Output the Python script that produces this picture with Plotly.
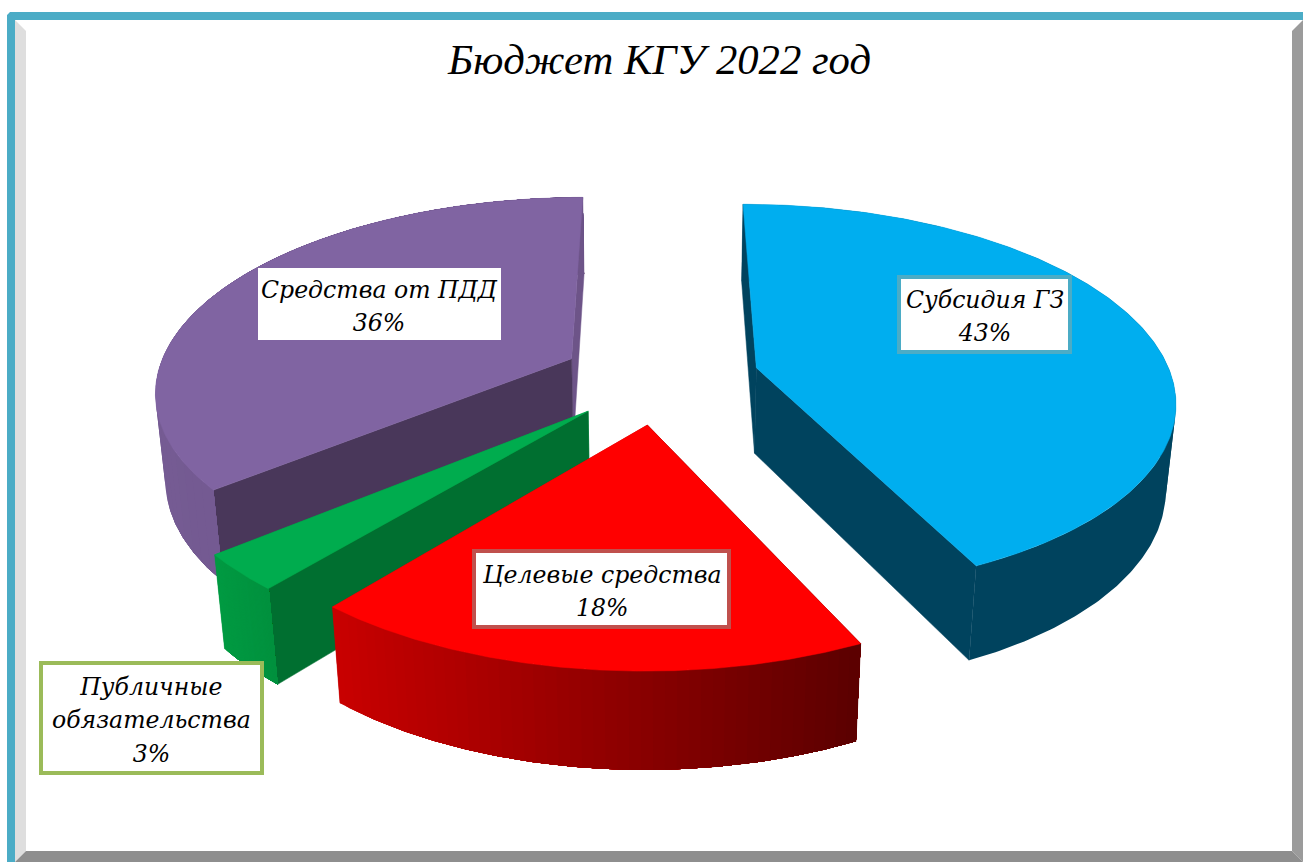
import numpy as np
import plotly.graph_objects as go

# ---- data ----
categories = ["Субсидия ГЗ", "Целевые средства", "Публичные<br>обязательства", "Средства от ПДД"]
shares = [43, 18, 3, 36]
title_text = "Бюджет КГУ 2022 год"

# ---- style ----
top_colors = ["#00aeef", "#ff0000", "#00ac4e", "#8064a2"]
wall_from = ["#00435e", "#c80000", "#009a42", "#755b93"]   # outer wall, left end
wall_to = ["#00435e", "#5a0000", "#008f3d", "#6a5185"]     # outer wall, right end
wall_first = ["#00435e", "#5a0000", "#006f30", "#49375a"]  # radial wall at slice start
wall_last = ["#00435e", "#c80000", "#009a42", "#6d5488"]   # radial wall at slice end
box_colors = ["#4bacc6", "#c0504d", "#9bbb59", None]
box_centers = [(984.5, 314.5), (601.5, 589), (151.5, 718), (379.5, 304)]
box_sizes = [(175, 79), (259, 80), (225, 114), (243, 72)]
draw_order = [3, 0, 2, 1]

# ---- projection of the tilted, exploded pie ----
CX, CY, FOCAL, TILT, DIST, THICK, START, EXPLODE, SQUASH = (
    660.18, 377.83, 2375.0, 0.488, 5.7167, 0.2427, -0.0015, 0.2392, 0.9843)

edges = np.cumsum([0] + shares) / sum(shares) * 2 * np.pi + START


def project(i, r, th, top=True):
    mid = (edges[i] + edges[i + 1]) / 2
    X = EXPLODE * np.sin(mid) + r * np.sin(th)
    Y = EXPLODE * np.cos(mid) + r * np.cos(th)
    Z = 0 if top else -THICK
    up = Y * np.sin(TILT) + Z * np.cos(TILT)
    d = DIST + Y * np.cos(TILT) - Z * np.sin(TILT)
    return CX + FOCAL * X / d, CY - SQUASH * FOCAL * up / d


def rgb(h):
    return np.array([int(h[k:k + 2], 16) for k in (1, 3, 5)], float)


def mix(a, b, t):
    c = rgb(a) * (1 - t) + rgb(b) * t
    return "rgb(%d,%d,%d)" % tuple(c.round())


fig = go.Figure()


def face(xs, ys, color, name, width=0.5):
    fig.add_trace(go.Scatter(
        x=np.r_[xs, xs[0]], y=np.r_[ys, ys[0]], mode="lines", fill="toself",
        fillcolor=color, line=dict(color=color, width=width), name=name,
        hoverinfo="name", showlegend=False))


def outer_run(i, t, name, lo, hi):
    """One stretch of outer wall that faces a single way, shaded left to right."""
    tx, ty = project(i, 1, t, True)
    bx, by = project(i, 1, t, False)
    if tx[-1] < tx[0]:
        tx, ty, bx, by = tx[::-1], ty[::-1], bx[::-1], by[::-1]
    steps = 1 if wall_from[i] == wall_to[i] else max(2, len(t) // 5)
    for k in np.linspace(0, len(t) - 1, steps + 1).astype(int)[:-1]:
        frac = np.clip((tx[k] - lo) / (hi - lo), 0, 1)
        face(np.r_[tx[k:], bx[k:][::-1]], np.r_[ty[k:], by[k:][::-1]],
             mix(wall_from[i], wall_to[i], frac), name, width=0)


for i in draw_order:
    name = categories[i].replace("<br>", " ")
    a0, a1 = edges[i], edges[i + 1]
    t = np.linspace(a0, a1, 240)
    tx, ty = project(i, 1, t, True)
    bx, by = project(i, 1, t, False)
    lo, hi = min(tx.min(), bx.min()), max(tx.max(), bx.max())
    # split the outer wall where it turns from facing away to facing the viewer
    cross = (tx[1:] - tx[:-1]) * (by[:-1] - ty[:-1]) - (ty[1:] - ty[:-1]) * (bx[:-1] - tx[:-1])
    front = cross < 0
    breaks = [0] + [int(k) + 1 for k in np.flatnonzero(front[1:] != front[:-1])] + [len(t) - 1]
    runs = [(s, e, front[min(s, len(front) - 1)]) for s, e in zip(breaks[:-1], breaks[1:])]
    for s, e, f in runs:
        if not f:
            outer_run(i, t[s:e + 1], name, lo, hi)
    # radial walls: the far one first, the one facing the viewer over it
    for th, col in ((a1, wall_last[i]), (a0, wall_first[i])):
        ax, ay = project(i, 0, 0, True)
        ex, ey = project(i, 1, th, True)
        cx_, cy_ = project(i, 0, 0, False)
        fx, fy = project(i, 1, th, False)
        face(np.array([ax, ex, fx, cx_]), np.array([ay, ey, fy, cy_]), col, name)
    for s, e, f in runs:
        if f:
            outer_run(i, t[s:e + 1], name, lo, hi)
    # top
    ax, ay = project(i, 0, 0, True)
    face(np.r_[ax, tx], np.r_[ay, ty], top_colors[i], name)


def poly(points, color):
    path = "M" + "L".join("%g,%g" % p for p in points) + "Z"
    return dict(type="path", path=path, fillcolor=color, line=dict(width=0), layer="below")


frame = [
    poly([(15, 20), (26, 31), (26, 851), (15, 862)], "#dedede"),
    poly([(1303, 20), (1292, 31), (1292, 851), (1303, 862)], "#9b9b9b"),
    poly([(15, 862), (26, 851), (1292, 851), (1303, 862)], "#8e8e8e"),
    poly([(10, 12), (1303, 12), (1303, 20), (15, 20), (15, 862), (7, 862), (7, 15)], "#4bacc6"),
]

boxes = []
annotations = [dict(x=658.5, y=59.5, xref="x", yref="y", text="<i>" + title_text + "</i>", showarrow=False,
                    font=dict(family="Liberation Serif", size=42.7, color="#000000"),
                    xanchor="center", yanchor="middle")]
for i, cat in enumerate(categories):
    w, h = box_sizes[i]
    cx_, cy_ = box_centers[i]
    bw = 4 if box_colors[i] else 0
    boxes.append(dict(type="rect", x0=cx_ - w / 2 + bw / 2, x1=cx_ + w / 2 - bw / 2,
                      y0=cy_ - h / 2 + bw / 2, y1=cy_ + h / 2 - bw / 2, layer="above",
                      fillcolor="#ffffff",
                      line=dict(color=box_colors[i] or "#ffffff", width=bw)))
    lines = "<br>".join("<span style='font-size:23.6px'>%s</span>" % s
                        for s in (cat + "<br>%d%%" % shares[i]).split("<br>"))
    annotations.append(dict(
        x=cx_, y=cy_ + 2.2, xref="x", yref="y", showarrow=False,
        text="<i>%s</i>" % lines, align="center",
        font=dict(family="DejaVu Serif", size=25.6, color="#000000"),
        xanchor="center", yanchor="middle"))

fig.update_layout(
    width=1303, height=862, margin=dict(l=0, r=0, t=0, b=0), autosize=False,
    paper_bgcolor="#ffffff", plot_bgcolor="rgba(0,0,0,0)", showlegend=False,
    xaxis=dict(range=[0, 1303], visible=False, fixedrange=True),
    yaxis=dict(range=[862, 0], visible=False, fixedrange=True),
    shapes=frame + boxes, annotations=annotations)

fig.write_html("out.html", config=dict(displayModeBar=False),
               post_script="document.body.style.margin='0';document.body.style.overflow='hidden';")
